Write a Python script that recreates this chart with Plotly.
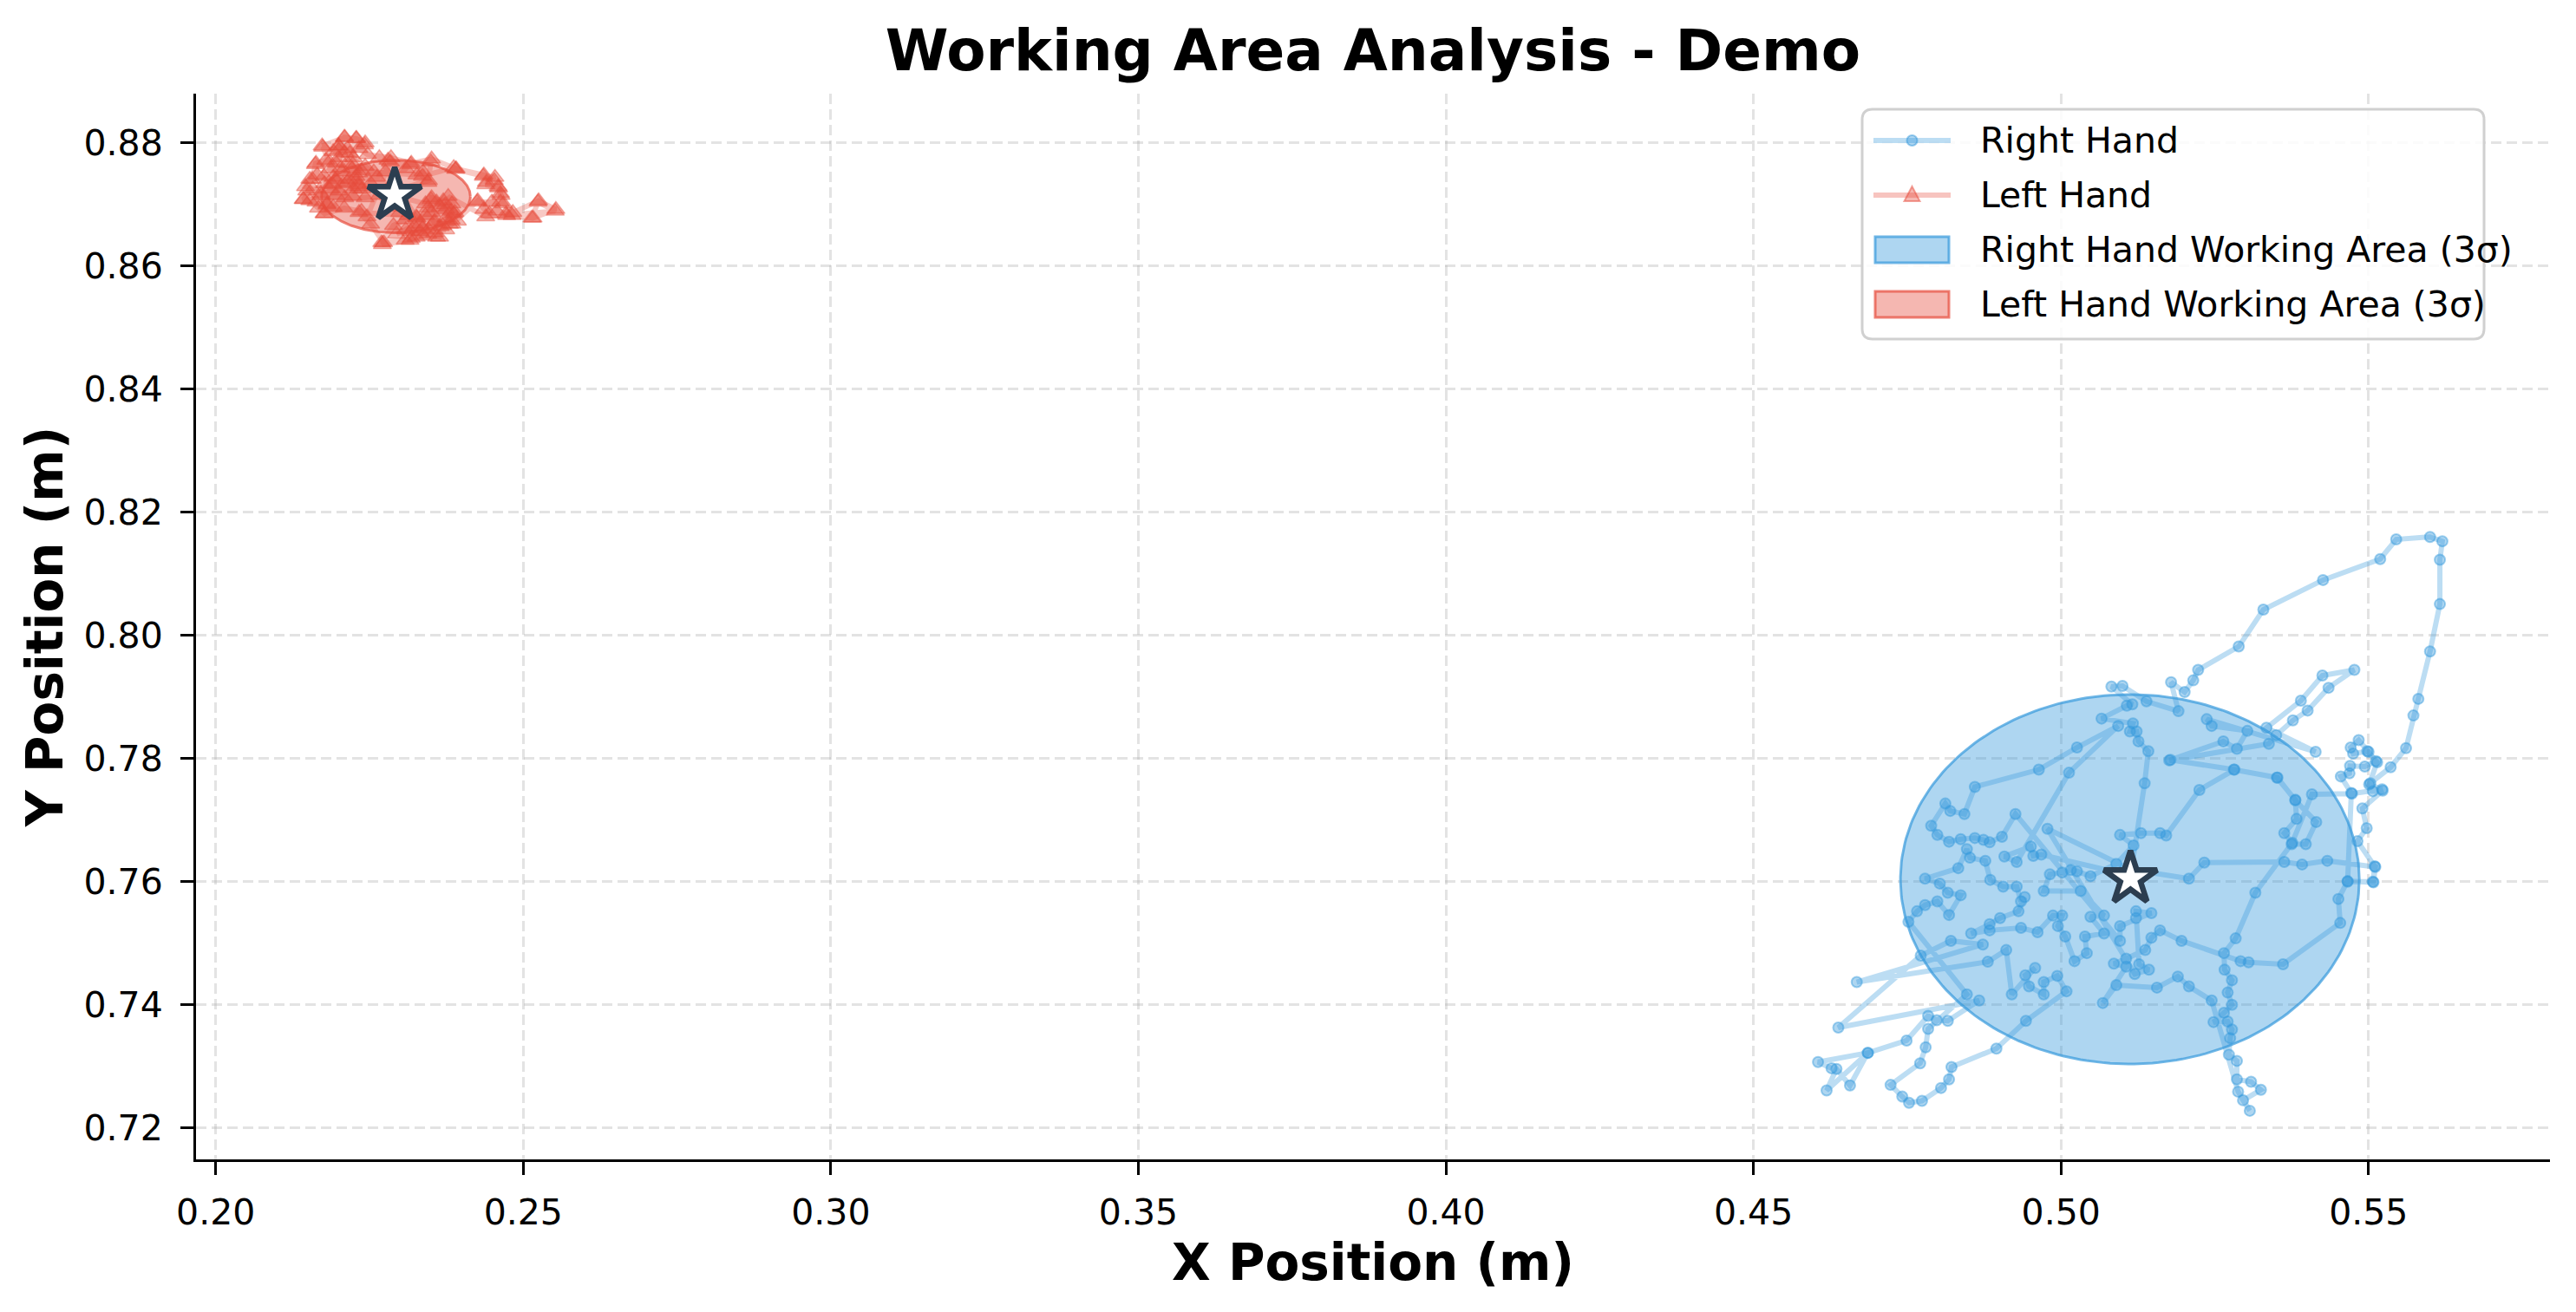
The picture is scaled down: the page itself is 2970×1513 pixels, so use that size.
import numpy as np
import plotly.graph_objects as go

# hand trajectories (m)
right_x = [0.4627, 0.4605, 0.4686, 0.4619, 0.4635, 0.4657, 0.4686, 0.4749, 0.4784, 0.4798,
           0.4816, 0.4867, 0.4638, 0.4772, 0.4821, 0.4873, 0.4668, 0.4881, 0.4911, 0.4920,
           0.4958, 0.4942, 0.4948, 0.4972, 0.4972, 0.4994, 0.5009, 0.4943, 0.4895, 0.4822,
           0.4818, 0.4805, 0.4774, 0.4753, 0.4742, 0.4723, 0.4771, 0.4780, 0.4784, 0.4847,
           0.4752, 0.4766, 0.4779, 0.4799, 0.4818, 0.4837, 0.4816, 0.4803, 0.4779, 0.4833,
           0.4847, 0.4852, 0.4877, 0.4885, 0.4906, 0.4928, 0.4935, 0.4941, 0.4931, 0.4901,
           0.4884, 0.4854, 0.4884, 0.4935, 0.4962, 0.4987, 0.5002, 0.4995, 0.5007, 0.5022,
           0.5042, 0.5039, 0.5070, 0.5048, 0.5070, 0.5032, 0.4972, 0.4982, 0.5002, 0.5016,
           0.5026, 0.5048, 0.5090, 0.5118, 0.5096, 0.5130, 0.5161, 0.5171, 0.5225, 0.5282,
           0.5351, 0.5381, 0.5383, 0.5363, 0.5376, 0.5316, 0.5284, 0.5265, 0.5266, 0.5278,
           0.5271, 0.5278, 0.5265, 0.5248, 0.5271, 0.5278, 0.5275, 0.5273, 0.5286, 0.5286,
           0.5309, 0.5325, 0.5296, 0.5307, 0.5288, 0.5245, 0.5208, 0.5190, 0.5156, 0.5090,
           0.5068, 0.5106, 0.5086, 0.5106, 0.5137, 0.5147, 0.5161, 0.5196, 0.5292, 0.5305,
           0.5361, 0.5454, 0.5451, 0.5466, 0.5508, 0.5511, 0.5433, 0.5392, 0.5363, 0.5233,
           0.5208, 0.5113, 0.4978, 0.5120, 0.5143, 0.5127, 0.5122, 0.5122, 0.5147, 0.5096,
           0.5096, 0.4926, 0.4904, 0.4884, 0.4874, 0.4860, 0.4837, 0.4818, 0.4799, 0.4789,
           0.4812, 0.4820, 0.4843, 0.4860, 0.4964, 0.5026, 0.5093, 0.5013, 0.4928, 0.4908,
           0.4951, 0.4955, 0.4968, 0.5113, 0.5136, 0.5142, 0.5126, 0.5123, 0.5112, 0.5117,
           0.5066, 0.5107, 0.5116, 0.5082, 0.5100, 0.5139, 0.5191, 0.5179, 0.5201, 0.5215,
           0.5223, 0.5289, 0.5329, 0.5426, 0.5519, 0.5545, 0.5600, 0.5620, 0.5616, 0.5616,
           0.5600, 0.5581, 0.5573, 0.5561, 0.5536, 0.5503, 0.5507, 0.5523, 0.5490, 0.5497,
           0.5482, 0.5510, 0.5507, 0.5466, 0.5472, 0.5455, 0.5469, 0.5470, 0.5494, 0.5512,
           0.5498, 0.5475, 0.5471, 0.5484, 0.5500, 0.5514, 0.5501, 0.5522, 0.5473, 0.5408,
           0.5375, 0.5398, 0.5415, 0.5381, 0.5352, 0.5281, 0.5178, 0.5264, 0.5286, 0.5303,
           0.5245, 0.5237, 0.5414, 0.5334, 0.5390, 0.5425, 0.5477, 0.5435, 0.5401, 0.5377,
           0.5350, 0.5338, 0.5176]
right_y = [0.7297, 0.7307, 0.7322, 0.7261, 0.7296, 0.7269, 0.7322, 0.7342, 0.7382, 0.7375,
           0.7374, 0.7407, 0.7363, 0.7480, 0.7504, 0.7498, 0.7437, 0.7470, 0.7489, 0.7417,
           0.7460, 0.7448, 0.7430, 0.7417, 0.7437, 0.7447, 0.7422, 0.7374, 0.7329, 0.7299,
           0.7279, 0.7265, 0.7244, 0.7241, 0.7251, 0.7270, 0.7305, 0.7331, 0.7361, 0.7417,
           0.7535, 0.7552, 0.7562, 0.7568, 0.7546, 0.7578, 0.7582, 0.7597, 0.7605, 0.7622,
           0.7653, 0.7639, 0.7634, 0.7603, 0.7592, 0.7592, 0.7568, 0.7575, 0.7552, 0.7541,
           0.7531, 0.7516, 0.7521, 0.7525, 0.7518, 0.7545, 0.7545, 0.7528, 0.7511, 0.7471,
           0.7484, 0.7511, 0.7516, 0.7543, 0.7545, 0.7585, 0.7585, 0.7612, 0.7615, 0.7619,
           0.7617, 0.7609, 0.7629, 0.7659, 0.7676, 0.7679, 0.7679, 0.7675, 0.7749, 0.7782,
           0.7769, 0.7733, 0.7702, 0.7679, 0.7663, 0.7582, 0.7508, 0.7484, 0.7457, 0.7440,
           0.7420, 0.7400, 0.7387, 0.7372, 0.7373, 0.7360, 0.7346, 0.7319, 0.7309, 0.7279,
           0.7275, 0.7262, 0.7245, 0.7228, 0.7259, 0.7407, 0.7430, 0.7446, 0.7428, 0.7432,
           0.7403, 0.7462, 0.7467, 0.7475, 0.7489, 0.7509, 0.7521, 0.7504, 0.7471, 0.7469,
           0.7466, 0.7533, 0.7572, 0.7601, 0.7599, 0.7624, 0.7634, 0.7628, 0.7632, 0.7631,
           0.7605, 0.7620, 0.7686, 0.7450, 0.7457, 0.7466, 0.7541, 0.7552, 0.7549, 0.7528,
           0.7504, 0.7710, 0.7673, 0.7664, 0.7668, 0.7671, 0.7669, 0.7665, 0.7676, 0.7691,
           0.7727, 0.7715, 0.7710, 0.7754, 0.7782, 0.7818, 0.7853, 0.7777, 0.7632, 0.7641,
           0.7657, 0.7642, 0.7644, 0.7610, 0.7760, 0.7812, 0.7828, 0.7844, 0.7844, 0.7857,
           0.7865, 0.7886, 0.7888, 0.7917, 0.7918, 0.7893, 0.7877, 0.7924, 0.7908, 0.7927,
           0.7944, 0.7982, 0.8042, 0.8090, 0.8124, 0.8156, 0.8160, 0.8153, 0.8123, 0.8051,
           0.7974, 0.7897, 0.7870, 0.7817, 0.7786, 0.7760, 0.7747, 0.7748, 0.7719, 0.7687,
           0.7666, 0.7625, 0.7600, 0.7600, 0.7744, 0.7771, 0.7776, 0.7788, 0.7787, 0.7796,
           0.7812, 0.7808, 0.7818, 0.7830, 0.7811, 0.7794, 0.7758, 0.7750, 0.7743, 0.7742,
           0.7661, 0.7661, 0.7697, 0.7732, 0.7769, 0.7782, 0.7798, 0.7828, 0.7816, 0.7845,
           0.7853, 0.7864, 0.7811, 0.7850, 0.7894, 0.7935, 0.7944, 0.7915, 0.7878, 0.7862,
           0.7838, 0.7824, 0.7797]

left_x = [0.2173, 0.2210, 0.2229, 0.2243, 0.2200, 0.2191, 0.2214, 0.2233, 0.2247, 0.2285,
          0.2318, 0.2351, 0.2391, 0.2436, 0.2454, 0.2440, 0.2459, 0.2464, 0.2468, 0.2483,
          0.2516, 0.2553, 0.2525, 0.2473, 0.2457, 0.2445, 0.2436, 0.2426, 0.2384, 0.2374,
          0.2384, 0.2370, 0.2351, 0.2351, 0.2332, 0.2356, 0.2337, 0.2318, 0.2316, 0.2271,
          0.2273, 0.2252, 0.2233, 0.2313, 0.2299, 0.2280, 0.2266, 0.2243, 0.2210, 0.2191,
          0.2177, 0.2167, 0.2153, 0.2142, 0.2158, 0.2146, 0.2153, 0.2165, 0.2163, 0.2179,
          0.2196, 0.2205, 0.2191, 0.2177, 0.2224, 0.2233, 0.2222, 0.2233, 0.2243, 0.2257,
          0.2327, 0.2337, 0.2346, 0.2299, 0.2186, 0.2200, 0.2210, 0.2224, 0.2214, 0.2186,
          0.2196, 0.2172, 0.2163, 0.2181, 0.2207, 0.2217, 0.2229, 0.2238, 0.2252, 0.2262,
          0.2276, 0.2290, 0.2309, 0.2280, 0.2266, 0.2327, 0.2341, 0.2356, 0.2365, 0.2374,
          0.2346, 0.2332, 0.2323, 0.2309, 0.2294, 0.2374, 0.2389, 0.2393, 0.2365, 0.2341,
          0.2290, 0.2200,
          0.2209, 0.2228, 0.2242, 0.2218, 0.2200, 0.2174, 0.2185, 0.2162, 0.2157, 0.2176,
          0.2204, 0.2223, 0.2237, 0.2228, 0.2214, 0.2195, 0.2190, 0.2148, 0.2171, 0.2200,
          0.2232, 0.2223, 0.2143, 0.2181, 0.2176, 0.2209, 0.2237, 0.2246, 0.2284, 0.2317,
          0.2350, 0.2345, 0.2336, 0.2387, 0.2390, 0.2435, 0.2453, 0.2439, 0.2460, 0.2463,
          0.2463, 0.2449, 0.2425, 0.2472, 0.2482, 0.2514, 0.2524, 0.2552, 0.2439, 0.2378,
          0.2383, 0.2380, 0.2383, 0.2387, 0.2373, 0.2359, 0.2350, 0.2345, 0.2355, 0.2369,
          0.2364, 0.2345, 0.2336, 0.2326, 0.2308, 0.2289, 0.2270, 0.2308, 0.2326, 0.2317,
          0.2359]
left_y = [0.8795, 0.8809, 0.8807, 0.8800, 0.8795, 0.8786, 0.8791, 0.8791, 0.8781, 0.8776,
          0.8767, 0.8774, 0.8758, 0.8748, 0.8744, 0.8736, 0.8729, 0.8715, 0.8701, 0.8687,
          0.8678, 0.8692, 0.8706, 0.8682, 0.8689, 0.8685, 0.8692, 0.8706, 0.8668, 0.8678,
          0.8701, 0.8706, 0.8711, 0.8687, 0.8668, 0.8654, 0.8649, 0.8645, 0.8642, 0.8635,
          0.8638, 0.8668, 0.8687, 0.8682, 0.8687, 0.8696, 0.8715, 0.8711, 0.8711, 0.8696,
          0.8685, 0.8694, 0.8706, 0.8708, 0.8725, 0.8729, 0.8741, 0.8748, 0.8767, 0.8772,
          0.8767, 0.8753, 0.8744, 0.8734, 0.8725, 0.8729, 0.8758, 0.8751, 0.8762, 0.8753,
          0.8748, 0.8753, 0.8739, 0.8725, 0.8758, 0.8776, 0.8784, 0.8776, 0.8767, 0.8725,
          0.8715, 0.8715, 0.8704, 0.8701, 0.8734, 0.8741, 0.8739, 0.8725, 0.8734, 0.8744,
          0.8753, 0.8739, 0.8758, 0.8772, 0.8776, 0.8678, 0.8682, 0.8673, 0.8664, 0.8659,
          0.8659, 0.8656, 0.8664, 0.8659, 0.8652, 0.8692, 0.8687, 0.8673, 0.8696, 0.8701,
          0.8715, 0.8795,
          0.8809, 0.8807, 0.8797, 0.8783, 0.8788, 0.8793, 0.8769, 0.8765, 0.8741, 0.8746,
          0.8760, 0.8765, 0.8755, 0.8746, 0.8736, 0.8741, 0.8732, 0.8722, 0.8718, 0.8722,
          0.8732, 0.8713, 0.8708, 0.8699, 0.8685, 0.8694, 0.8689, 0.8680, 0.8769, 0.8765,
          0.8769, 0.8736, 0.8746, 0.8760, 0.8757, 0.8746, 0.8739, 0.8732, 0.8727, 0.8718,
          0.8704, 0.8704, 0.8704, 0.8685, 0.8682, 0.8678, 0.8704, 0.8689, 0.8680, 0.8713,
          0.8689, 0.8668, 0.8675, 0.8685, 0.8699, 0.8704, 0.8708, 0.8694, 0.8671, 0.8666,
          0.8647, 0.8652, 0.8661, 0.8680, 0.8675, 0.8666, 0.8638, 0.8642, 0.8647, 0.8656,
          0.8647]

# mean positions and 3-sigma working areas
right_mean = [0.5113, 0.7605]
left_mean = [0.2291, 0.8715]
right_area_center = [0.5112, 0.7604]
right_area_radius = [0.0373, 0.0300]
left_area_center = [0.2293, 0.8713]
left_area_radius = [0.0121, 0.0059]

x_ticks = [0.20, 0.25, 0.30, 0.35, 0.40, 0.45, 0.50, 0.55]
y_ticks = [0.72, 0.74, 0.76, 0.78, 0.80, 0.82, 0.84, 0.86, 0.88]

legend_labels = ["Right Hand", "Left Hand",
                 "Right Hand Working Area (3σ)", "Left Hand Working Area (3σ)"]

BLUE = "52,152,219"
RED = "231,76,60"
FONT = "DejaVu Sans"

W, H = 2970, 1513
ML, MR, MT, MB = 226, 30, 108, 176
PW, PH = W - ML - MR, H - MT - MB


def px(x):  # pixel column -> paper x
    return (x - ML) / PW


def py(y):  # pixel row -> paper y
    return (H - MB - y) / PH


def ellipse(center, radius):
    t = np.linspace(0, 2 * np.pi, 240)
    return center[0] + radius[0] * np.cos(t), center[1] + radius[1] * np.sin(t)


fig = go.Figure()

fig.add_trace(go.Scatter(
    x=right_x, y=right_y, mode="lines+markers", name=legend_labels[0], showlegend=False,
    line=dict(color=f"rgba({BLUE},0.33)", width=6),
    marker=dict(symbol="circle", size=12, color=f"rgba({BLUE},0.4)",
                line=dict(color=f"rgba({BLUE},0.45)", width=2)),
))
fig.add_trace(go.Scatter(
    x=left_x, y=left_y, mode="lines+markers", name=legend_labels[1], showlegend=False,
    line=dict(color=f"rgba({RED},0.3)", width=6),
    marker=dict(symbol="triangle-up", size=18, color=f"rgba({RED},0.42)",
                line=dict(color=f"rgba({RED},0.45)", width=1.5)),
))

ex, ey = ellipse(right_area_center, right_area_radius)
fig.add_trace(go.Scatter(
    x=ex, y=ey, mode="lines", fill="toself", name=legend_labels[2], showlegend=False,
    fillcolor=f"rgba({BLUE},0.4)", line=dict(color=f"rgba({BLUE},0.7)", width=3),
))
ex, ey = ellipse(left_area_center, left_area_radius)
fig.add_trace(go.Scatter(
    x=ex, y=ey, mode="lines", fill="toself", name=legend_labels[3], showlegend=False,
    fillcolor=f"rgba({RED},0.4)", line=dict(color=f"rgba({RED},0.7)", width=3),
))

fig.add_trace(go.Scatter(
    x=[right_mean[0], left_mean[0]], y=[right_mean[1], left_mean[1]],
    mode="markers", showlegend=False,
    marker=dict(symbol="star", size=46, color="white",
                line=dict(color="#2c3e50", width=6.5)),
))

# legend box drawn by hand (matplotlib style: rounded frame, wide patches)
bx0, bx1, by0, by1, rad = 2147, 2864, 126, 391, 12
rx, ry = rad / PW, rad / PH
x0, x1, y0, y1 = px(bx0), px(bx1), py(by1), py(by0)
frame = (f"M{x0 + rx},{y0} L{x1 - rx},{y0} Q{x1},{y0} {x1},{y0 + ry} "
         f"L{x1},{y1 - ry} Q{x1},{y1} {x1 - rx},{y1} L{x0 + rx},{y1} "
         f"Q{x0},{y1} {x0},{y1 - ry} L{x0},{y0 + ry} Q{x0},{y0} {x0 + rx},{y0} Z")
shapes = [dict(type="path", xref="paper", yref="paper", path=frame,
               fillcolor="rgba(255,255,255,0.85)", line=dict(color="#d0d0d0", width=3))]

rows = [162, 225, 288, 351]
sym_x0, sym_x1, text_x = 2160, 2249, 2281
for row, col in zip(rows[:2], [BLUE, RED]):
    shapes.append(dict(type="line", xref="paper", yref="paper",
                       x0=px(sym_x0), x1=px(sym_x1), y0=py(row), y1=py(row),
                       line=dict(color=f"rgba({col},0.33)", width=6)))
mid = px((sym_x0 + sym_x1) / 2)
shapes.append(dict(type="circle", xref="paper", yref="paper",
                   xsizemode="pixel", ysizemode="pixel", xanchor=mid, yanchor=py(rows[0]),
                   x0=-6, x1=6, y0=-6, y1=6, fillcolor=f"rgba({BLUE},0.4)",
                   line=dict(color=f"rgba({BLUE},0.5)", width=2)))
shapes.append(dict(type="path", xref="paper", yref="paper",
                   xsizemode="pixel", ysizemode="pixel", xanchor=mid, yanchor=py(rows[1]),
                   path="M-9,-7 L9,-7 L0,10 Z", fillcolor=f"rgba({RED},0.4)",
                   line=dict(color=f"rgba({RED},0.5)", width=2)))
for row, col in zip(rows[2:], [BLUE, RED]):
    shapes.append(dict(type="rect", xref="paper", yref="paper",
                       x0=px(sym_x0 + 2), x1=px(sym_x1 - 2), y0=py(row + 15), y1=py(row - 15),
                       fillcolor=f"rgba({col},0.4)", line=dict(color=f"rgba({col},0.7)", width=3)))

annotations = [dict(text=lab, xref="paper", yref="paper", x=px(text_x), y=py(row),
                    xanchor="left", yanchor="middle", showarrow=False,
                    font=dict(family=FONT, size=41, color="black"))
               for lab, row in zip(legend_labels, rows)]

axis_common = dict(
    showline=True, linecolor="black", linewidth=3, mirror=False,
    ticks="outside", ticklen=15, tickwidth=3, tickcolor="black",
    tickfont=dict(family=FONT, size=41, color="black"),
    showgrid=True, gridcolor="rgba(176,176,176,0.35)", gridwidth=3,
    griddash="12px,6px", zeroline=False, tickformat=".2f", automargin=False,
)

fig.update_xaxes(
    range=[0.1968, 0.5795], tickvals=x_ticks, ticklabelstandoff=8,
    title=dict(text="X Position (m)", standoff=12,
               font=dict(family=FONT, size=58, weight="bold", color="black")),
    **axis_common,
)
fig.update_yaxes(
    range=[0.7149, 0.888], tickvals=y_ticks, ticklabelstandoff=12,
    title=dict(text="Y Position (m)", standoff=6,
               font=dict(family=FONT, size=58, weight="bold", color="black")),
    **axis_common,
)

fig.update_layout(
    width=W, height=H,
    margin=dict(l=ML, r=MR, t=MT, b=MB),
    paper_bgcolor="white", plot_bgcolor="white",
    font=dict(family=FONT, color="black"),
    title=dict(text="Working Area Analysis - Demo", x=px(1583), xref="paper", xanchor="center",
               y=0.962, yanchor="middle",
               font=dict(family=FONT, size=66, weight="bold", color="black")),
    shapes=shapes, annotations=annotations,
    showlegend=False,
)

# drop the browser's default 8px page margin so the figure sits at the window origin
fig.write_html("out.html", config={"displayModeBar": False},
               post_script="document.body.style.margin='0';document.body.style.overflow='hidden';")
